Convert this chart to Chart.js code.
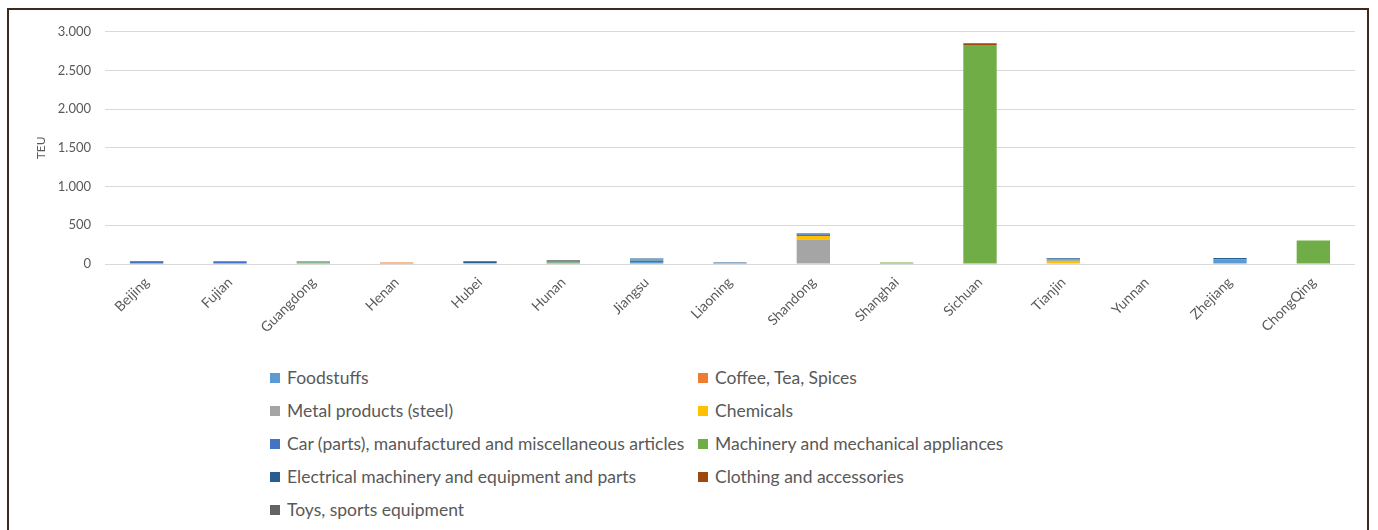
<!DOCTYPE html>
<html lang="en">
<head>
<meta charset="UTF-8" />
<title>TEU by province</title>
<script src="https://cdn.jsdelivr.net/npm/chart.js@4.4.1/dist/chart.umd.min.js"></script>
<style>
  html, body { margin: 0; padding: 0; background: #fff; }
  body { width: 1378px; height: 530px; overflow: hidden; position: relative; font-family: Lato, "Open Sans", sans-serif; }
  #frame {
    position: absolute; left: 7px; top: 8px; width: 1362px; height: 540px;
    border: 2px solid #3d2a1c; border-bottom: none; box-sizing: border-box;
  }
  #wrap { position: absolute; left: 10px; top: 10px; width: 1356px; height: 350px; }
  #legend {
    position: absolute; left: 270px; top: 361px;
    display: grid; grid-template-columns: 428px 420px;
  }
  .item { height: 33px; display: flex; align-items: center; font-size: 17.5px; color: #595959; white-space: nowrap; }
  .box { width: 10px; height: 10px; margin-right: 7px; flex: none; }
</style>
</head>
<body>
<div id="frame"></div>
<div id="wrap"><canvas id="chart"></canvas></div>
<div id="legend"></div>
<script>
  const provinces = ["Beijing", "Fujian", "Guangdong", "Henan", "Hubei", "Hunan", "Jiangsu",
    "Liaoning", "Shandong", "Shanghai", "Sichuan", "Tianjin", "Yunnan", "Zhejiang", "ChongQing"];

  // TEU per goods type (same order as provinces)
  const foodstuffs  = [5, 0, 15, 0, 0, 15, 25, 10, 0, 0, 0, 0, 0, 57, 0];
  const coffeeTea   = [0, 0, 0, 20, 0, 0, 0, 0, 0, 0, 0, 0, 0, 0, 0];
  const metal       = [0, 0, 0, 0, 0, 0, 0, 0, 318, 0, 0, 0, 0, 0, 0];
  const chemicals   = [0, 0, 0, 0, 0, 0, 0, 0, 45, 0, 0, 42, 0, 0, 0];
  const carParts    = [25, 35, 0, 0, 0, 0, 20, 0, 22, 0, 0, 6, 0, 0, 0];
  const machinery   = [0, 0, 20, 0, 12, 15, 15, 0, 8, 20, 2828, 12, 0, 0, 305];
  const electrical  = [0, 0, 0, 0, 22, 0, 12, 10, 7, 0, 0, 13, 0, 20, 0];
  const clothing    = [0, 0, 0, 0, 0, 0, 0, 0, 0, 0, 25, 0, 0, 0, 0];
  const toys        = [10, 0, 0, 0, 0, 20, 0, 0, 0, 0, 0, 0, 0, 0, 0];

  const series = [
    { label: "Foodstuffs", data: foodstuffs, color: "#5B9BD5" },
    { label: "Coffee, Tea, Spices", data: coffeeTea, color: "#ED7D31" },
    { label: "Metal products (steel)", data: metal, color: "#A5A5A5" },
    { label: "Chemicals", data: chemicals, color: "#FFC000" },
    { label: "Car (parts), manufactured and miscellaneous articles", data: carParts, color: "#4472C4" },
    { label: "Machinery and mechanical appliances", data: machinery, color: "#70AD47" },
    { label: "Electrical machinery and equipment and parts", data: electrical, color: "#255E91" },
    { label: "Clothing and accessories", data: clothing, color: "#9E480E" },
    { label: "Toys, sports equipment", data: toys, color: "#636363" },
  ];

  const fmt = (v) => v.toLocaleString("de-DE");

  const chart = new Chart(document.getElementById("chart"), {
    type: "bar",
    data: {
      labels: provinces,
      datasets: series.map((s) => ({
        label: s.label,
        data: s.data,
        backgroundColor: s.color,
        borderWidth: 0,
        categoryPercentage: 1,
        barPercentage: 0.4,
      })),
    },
    options: {
      responsive: true,
      maintainAspectRatio: false,
      animation: false,
      layout: { padding: { top: 21, right: 11, left: 0, bottom: 0 } },
      plugins: { legend: { display: false }, tooltip: { enabled: false } },
      scales: {
        x: {
          stacked: true,
          grid: { display: false },
          border: { display: false },
          ticks: { color: "#595959", font: { family: "Lato", size: 14 }, minRotation: 45, maxRotation: 45, padding: 2 },
          afterFit: (scale) => { scale.height = 96; },
        },
        y: {
          stacked: true,
          min: 0,
          max: 3000,
          ticks: { stepSize: 500, color: "#595959", font: { family: "Lato", size: 13 }, padding: 14, callback: (v) => fmt(v) },
          grid: { color: "#d9d9d9", drawTicks: false },
          border: { display: false },
          title: { display: true, text: "TEU", color: "#595959", font: { family: "Lato", size: 12 }, padding: { top: 24, bottom: 0 } },
          afterFit: (scale) => { scale.width = 95; },
        },
      },
    },
  });

  const legend = document.getElementById("legend");
  chart.data.datasets.forEach((ds) => {
    const item = document.createElement("div");
    item.className = "item";
    const box = document.createElement("span");
    box.className = "box";
    box.style.background = ds.backgroundColor;
    item.appendChild(box);
    item.appendChild(document.createTextNode(ds.label));
    legend.appendChild(item);
  });
</script>
</body>
</html>
